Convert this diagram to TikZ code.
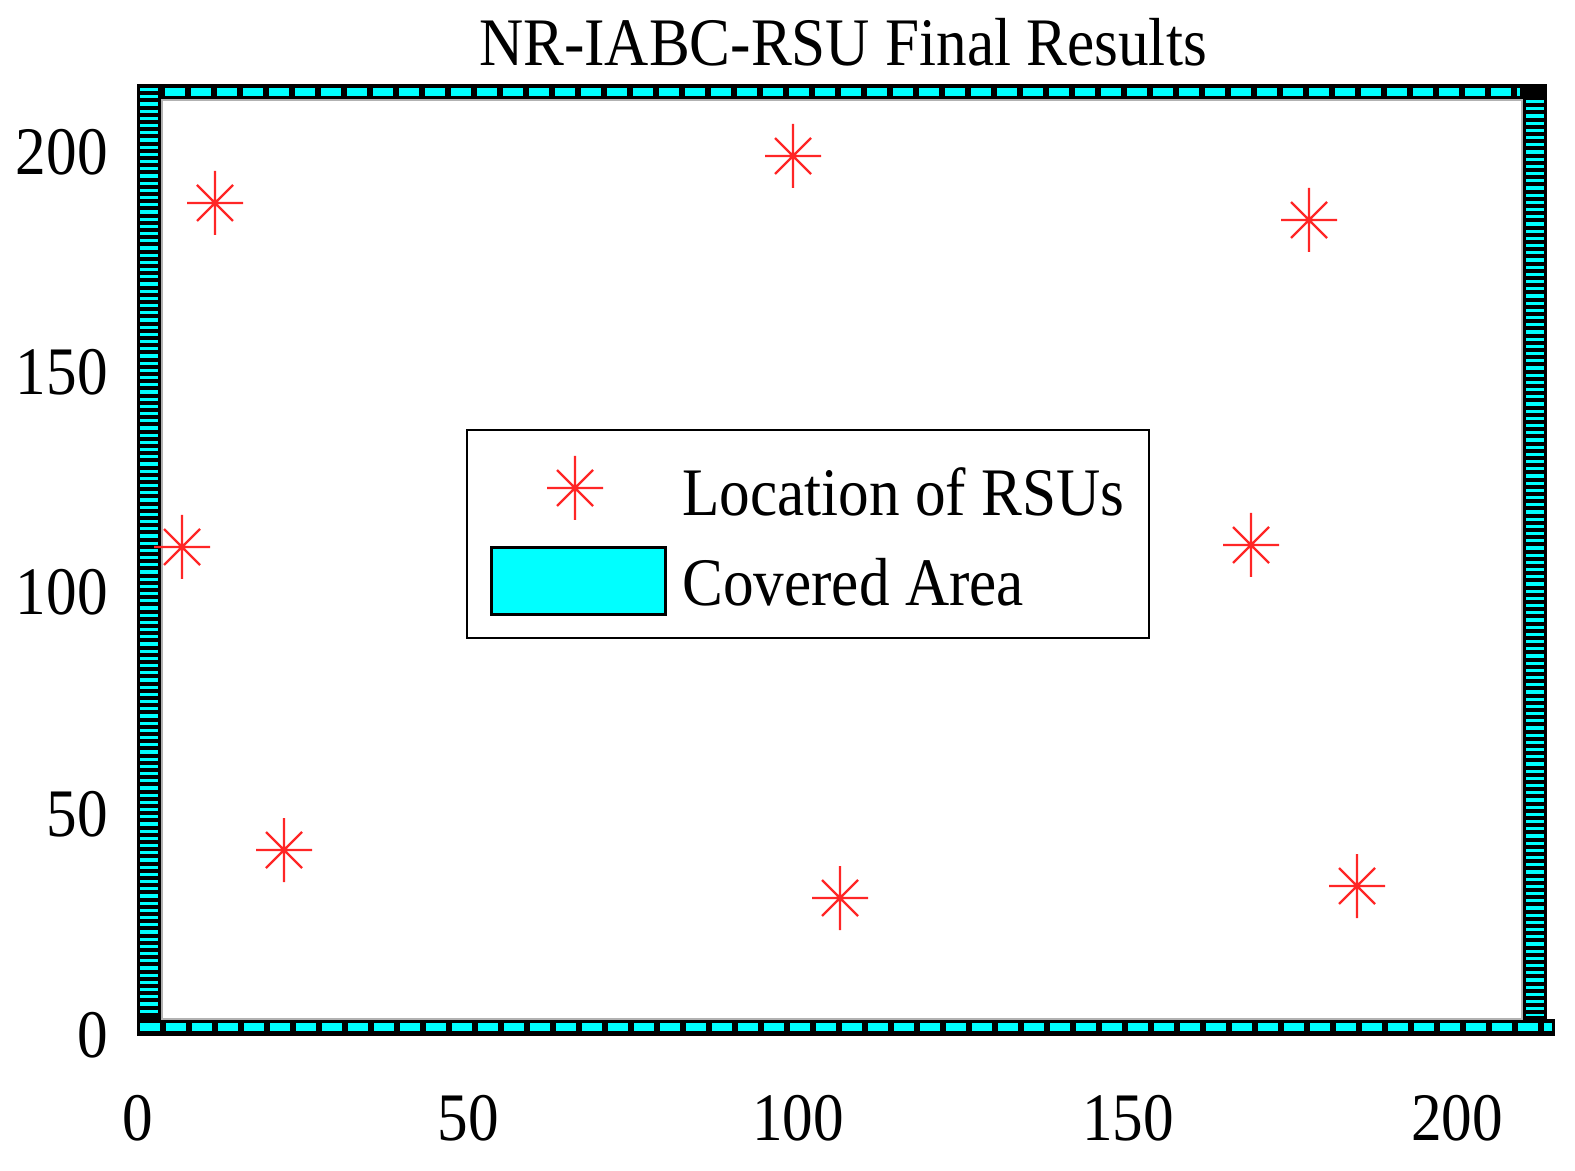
\documentclass[tikz,border=0pt]{standalone}
\usepackage{fontspec}
\setmainfont{Liberation Serif}[FakeStretch=0.9]
\definecolor{cy}{RGB}{0,255,255}
\begin{document}
\begin{tikzpicture}[x=0.5pt,y=-0.5pt,
  star/.style={red!85!white,line width=1.2pt},
  lbl/.style={font=\fontsize{34}{36}\selectfont,inner sep=0pt},
  hdash/.style={cy,line width=4pt,dash pattern=on 10pt off 3pt},
  vdash/.style={cy,line width=9pt,dash pattern=on 1.6pt off 2pt}]
\useasboundingbox (0,0) rectangle (1575,1171);
\newcommand{\rsu}[3]{\coordinate (#1) at (#2,#3);
  \draw[star] ([xshift=-14pt]#1)--([xshift=14pt]#1) ([yshift=-16pt]#1)--([yshift=16pt]#1)
   ([shift={(-9pt,-9pt)}]#1)--([shift={(9pt,9pt)}]#1) ([shift={(-9pt,9pt)}]#1)--([shift={(9pt,-9pt)}]#1);}
% bars
\fill[black] (137,84) rectangle (162,1036);
\fill[black] (137,1019) rectangle (1555,1036);
\fill[black] (1522,84) rectangle (1547,1036);
\fill[black] (162,84) rectangle (1547,100);
\draw[hdash] (165,92) -- (1520,92);
\draw[hdash] (140,1027) -- (1552,1027);
\draw[vdash] (149,88) -- (149,1016);
\draw[vdash] (1535,100) -- (1535,1016);
\draw[gray!60,line width=1pt] (162,100) rectangle (1522,1019);
% title
\node[lbl] (title) at (843,42) {NR-IABC-RSU Final Results};
% ticks
\foreach \v/\px in {0/138,50/468,100/798,150/1128,200/1457}
  \node[lbl] (x\v) at (\px,1118) {\v};
\foreach \v/\py in {0/1035,50/814,100/592,150/372,200/152}
  \node[lbl,anchor=east] (y\v) at (108,\py) {\v};
% rsus
\rsu{a}{215}{203}\rsu{b}{793}{156}\rsu{c}{1309}{220}\rsu{d}{182}{547}
\rsu{e}{1251}{545}\rsu{f}{284}{850}\rsu{g}{840}{898}\rsu{h}{1357}{886}
% legend
\draw[fill=white,line width=1.2pt] (467,430) rectangle (1149,638);
\rsu{l}{575}{488}
\node[lbl,anchor=west] (t1) at (682,492) {Location of RSUs};
\draw[fill=cy,line width=1.5pt] (491,548) rectangle (665,614);
\node[lbl,anchor=west] (t2) at (682,582) {Covered Area};
\end{tikzpicture}
\end{document}
